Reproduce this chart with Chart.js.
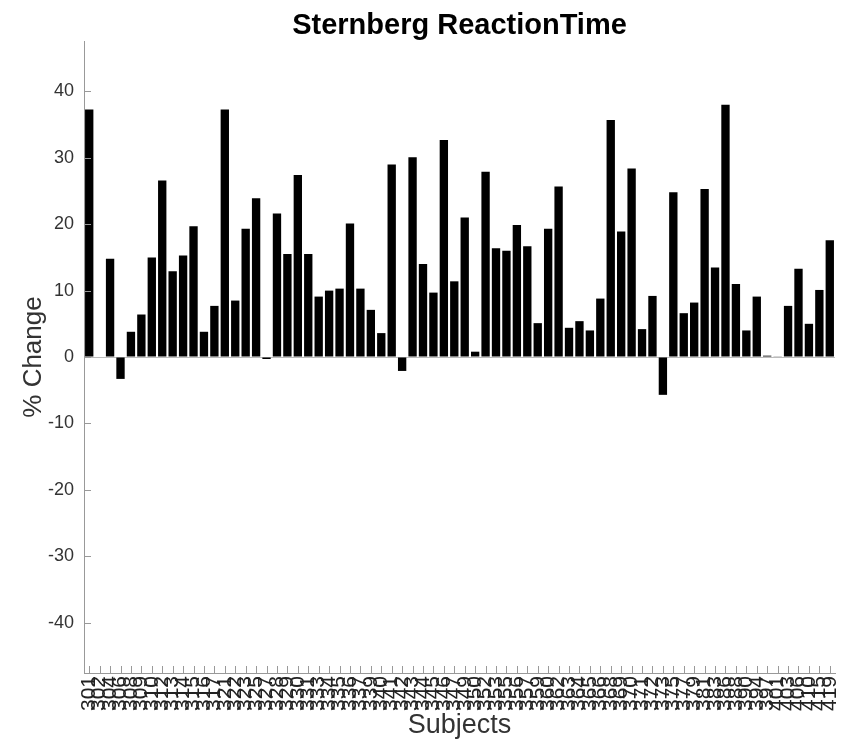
<!DOCTYPE html>
<html><head><meta charset="utf-8">
<script src="https://cdn.jsdelivr.net/npm/chart.js@4"></script>
<style>html,body{margin:0;padding:0;background:#fff}#wrap{width:843px;height:742px}</style>
</head><body><div id="wrap"><canvas id="c" width="843" height="742"></canvas></div>
<script>
const subjects = [301,302,304,306,308,309,310,312,313,314,315,316,317,321,322,323,325,327,328,329,
  330,331,333,334,335,336,337,339,340,341,342,343,344,345,346,347,349,350,352,353,355,356,357,359,
  360,362,363,364,365,366,368,369,370,371,372,373,375,377,379,381,383,386,388,390,394,397,401,403,406,410,415,419];
const pctChange = [37.3,0,14.8,-3.3,3.8,6.4,15.0,26.6,12.9,15.3,19.7,3.8,7.7,37.3,8.5,19.3,23.9,-0.3,21.6,15.5,
  27.4,15.5,9.1,10.0,10.3,20.1,10.3,7.1,3.6,29.0,-2.1,30.1,14.0,9.7,32.7,11.4,21.0,0.8,27.9,16.4,
  16.0,19.9,16.7,5.1,19.3,25.7,4.4,5.4,4.0,8.8,35.7,18.9,28.4,4.2,9.2,-5.7,24.8,6.6,8.2,25.3,
  13.5,38.0,11.0,4.0,9.1,0.2,0.05,7.7,13.3,5.0,10.1,17.6];
const yTicks = [-40,-30,-20,-10,0,10,20,30,40];
const yLimits = [-47.6, 47.6];
const chartTitle = 'Sternberg ReactionTime';

const family = '"Liberation Sans", Arial, Helvetica, sans-serif';

const innerTicks = {
  id: 'innerTicks',
  afterDatasetsDraw(chart) {
    const {ctx, scales: {x, y}, chartArea: a} = chart;
    ctx.save();
    ctx.strokeStyle = '#999';
    ctx.lineWidth = 1;
    ctx.beginPath();
    for (let i = 0; i < x.ticks.length; i++) {
      const px = Math.round(x.getPixelForTick(i)) + 0.5;
      ctx.moveTo(px, a.bottom);
      ctx.lineTo(px, a.bottom - 7);
    }
    y.ticks.forEach(t => {
      const py = Math.round(y.getPixelForValue(t.value)) + 0.5;
      ctx.moveTo(a.left, py);
      ctx.lineTo(a.left + 7, py);
    });
    ctx.stroke();
    // title centred over the plot area
    ctx.fillStyle = '#000';
    ctx.font = 'bold 29px ' + family;
    ctx.textAlign = 'center';
    ctx.textBaseline = 'middle';
    ctx.fillText(chartTitle, (a.left + a.right) / 2, 26);
    ctx.restore();
  }
};

new Chart(document.getElementById('c'), {
  type: 'bar',
  data: {
    labels: subjects.map(String),
    datasets: [{
      data: pctChange,
      backgroundColor: '#000',
      borderWidth: 0,
      barPercentage: 0.8,
      categoryPercentage: 1
    }]
  },
  options: {
    responsive: false,
    animation: false,
    devicePixelRatio: 1,
    layout: {padding: {top: 41, right: 8, bottom: 0, left: 0}},
    plugins: {
      legend: {display: false},
      tooltip: {enabled: false},
      title: {display: false}
    },
    scales: {
      x: {
        grid: {display: false, drawTicks: false},
        border: {display: true, color: '#999', width: 1},
        ticks: {autoSkip: false, minRotation: 90, maxRotation: 90, color: '#222',
          font: {family, size: 21}, padding: 3},
        title: {display: true, text: 'Subjects', color: '#333',
          font: {family, size: 27}, padding: {top: 0, bottom: 0}},
        afterFit(s) { s.height = 69; s.paddingLeft = 0; s.paddingRight = 0; }
      },
      y: {
        min: yLimits[0], max: yLimits[1],
        afterBuildTicks(s) { s.ticks = yTicks.map(v => ({value: v})); },
        grid: {drawTicks: false,
          color: c => (c.tick && c.tick.value === 0) ? '#bbb' : 'rgba(0,0,0,0)'},
        border: {display: true, color: '#999', width: 1},
        ticks: {color: '#333', font: {family, size: 18}, padding: 10},
        title: {display: true, text: '% Change', color: '#333',
          font: {family, size: 26}, padding: {top: 18, bottom: 0}},
        afterFit(s) { s.width = 84; }
      }
    }
  },
  plugins: [innerTicks]
});
</script>
</body></html>
